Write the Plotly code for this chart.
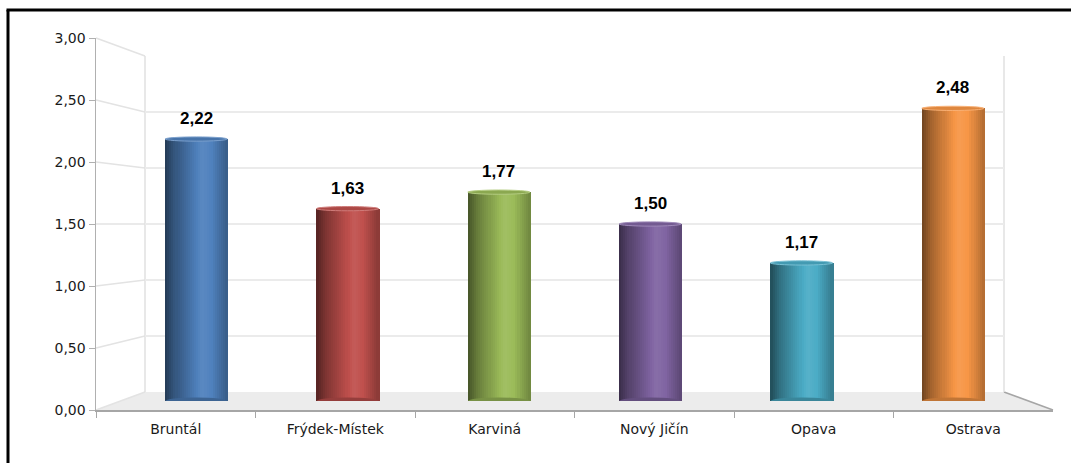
import plotly.graph_objects as go

categories = ["Bruntál", "Frýdek-Místek", "Karviná", "Nový Jičín", "Opava", "Ostrava"]
values = [2.22, 1.63, 1.77, 1.50, 1.17, 2.48]
colors = ["#4f81bd", "#c0504d", "#9bbb59", "#8064a2", "#4bacc6", "#f79646"]
tick_vals = [0, 0.5, 1.0, 1.5, 2.0, 2.5, 3.0]
tick_text = ["0,00", "0,50", "1,00", "1,50", "2,00", "2,50", "3,00"]

W, H = 1071, 463
def px(x):
    return x / W
def py(y):
    return 1 - y / H

# geometry (pixels)
FX0, FX1, FY0, FY3 = 96, 1053, 410, 38      # front plane
BX0, BX1, BY0, BY3 = 145, 1004, 392, 56     # back wall
MX0, MX1, MY0, MY3 = 120.5, 1028.5, 401, 47  # middle (bars)

def hex2rgb(h):
    h = h.lstrip("#")
    return tuple(int(h[i:i + 2], 16) for i in (0, 2, 4))

def shade(h, f):
    r, g, b = hex2rgb(h)
    if f <= 1:
        c = [int(v * f) for v in (r, g, b)]
    else:
        t = f - 1
        c = [int(v + (255 - v) * t) for v in (r, g, b)]
    return "rgb(%d,%d,%d)" % tuple(c)

def profile(t):
    pts = [(0, 0.45), (0.15, 0.66), (0.6, 1.07), (0.75, 1.0), (1.0, 0.72)]
    for (a, fa), (b, fb) in zip(pts, pts[1:]):
        if a <= t <= b:
            return fa + (fb - fa) * (t - a) / (b - a)
    return 1.0

fig = go.Figure()

# back wall axes (gridlines) - first subplot, drawn underneath
fig.add_trace(go.Scatter(x=[0], y=[0], xaxis="x", yaxis="y", mode="markers",
                         marker=dict(opacity=0), showlegend=False, hoverinfo="skip"))
# front axes (labels)
fig.add_trace(go.Scatter(x=categories, y=[0] * len(categories), xaxis="x2", yaxis="y2",
                         mode="markers", marker=dict(opacity=0), showlegend=False,
                         hoverinfo="skip"))

# cylinder bars as gradient stripes
N = 30
bw = 0.41
for i in range(N):
    t = (i + 0.5) / N
    fig.add_trace(go.Bar(
        x=categories, y=values, xaxis="x3", yaxis="y3",
        width=bw / N * 1.6, offset=-bw / 2 + i * bw / N,
        marker=dict(color=[shade(c, profile(t)) for c in colors], line=dict(width=0)),
        showlegend=False, hoverinfo="skip"))

shapes = []
# floor
shapes.append(dict(type="path", xref="paper", yref="paper",
                   path="M %f,%f L %f,%f L %f,%f L %f,%f Z" % (
                       px(BX0), py(BY0), px(BX1), py(BY0), px(FX1), py(FY0), px(FX0), py(FY0)),
                   fillcolor="#ececec", line=dict(width=0), layer="below"))
# side-wall diagonals for gridlines
for v in tick_vals:
    fy = FY0 - (FY0 - FY3) * v / 3
    by = BY0 - (BY0 - BY3) * v / 3
    shapes.append(dict(type="line", xref="paper", yref="paper",
                       x0=px(FX0), y0=py(fy), x1=px(BX0), y1=py(by),
                       line=dict(color="#e3e3e3", width=1.5), layer="below"))
# right floor diagonal
shapes.append(dict(type="line", xref="paper", yref="paper",
                   x0=px(BX1), y0=py(BY0), x1=px(FX1), y1=py(FY0),
                   line=dict(color="#a6a6a6", width=1.5), layer="below"))
# back wall verticals
shapes.append(dict(type="line", xref="paper", yref="paper",
                   x0=px(BX0), y0=py(BY0), x1=px(BX0), y1=py(BY3),
                   line=dict(color="#e0e0e0", width=1.5), layer="below"))
shapes.append(dict(type="line", xref="paper", yref="paper",
                   x0=px(BX1), y0=py(BY0), x1=px(BX1), y1=py(BY3),
                   line=dict(color="#e0e0e0", width=1.5), layer="below"))
# cylinder bottom and top caps (from the data)
for k, (v, c) in enumerate(zip(values, colors)):
    shapes.append(dict(type="circle", xref="x3", yref="y3",
                       x0=k - bw / 2, x1=k + bw / 2, y0=-0.03, y1=0.03,
                       fillcolor=shade(c, 0.78), line=dict(width=0), layer="above"))
    shapes.append(dict(type="circle", xref="x3", yref="y3",
                       x0=k - bw / 2, x1=k + bw / 2, y0=v - 0.018, y1=v + 0.018,
                       fillcolor=shade(c, 0.9), line=dict(color=shade(c, 1.25), width=1),
                       layer="above"))
# outer border (top and left)
shapes.append(dict(type="line", xref="paper", yref="paper",
                   x0=px(6.5), y0=py(10), x1=1, y1=py(10), line=dict(color="black", width=3)))
shapes.append(dict(type="line", xref="paper", yref="paper",
                   x0=px(8), y0=py(10), x1=px(8), y1=0, line=dict(color="black", width=3)))

# data labels
annotations = [dict(x=cat, y=v, xref="x3", yref="y3", yanchor="bottom", yshift=9,
                    text=("%.2f" % v).replace(".", ","), showarrow=False,
                    font=dict(family="Liberation Sans", size=17, color="black", weight="bold"))
               for cat, v in zip(categories, values)]

tickfont = dict(family="DejaVu Sans", size=14, color="#1a1a1a")
fig.update_layout(
    width=W, height=H, margin=dict(l=0, r=0, t=0, b=0, autoexpand=False),
    paper_bgcolor="white", plot_bgcolor="rgba(0,0,0,0)",
    barmode="overlay", bargap=0, showlegend=False,
    shapes=shapes, annotations=annotations,
    xaxis=dict(domain=[px(BX0), px(BX1)], range=[0, 1], visible=False, anchor="y"),
    yaxis=dict(domain=[py(BY0), py(BY3)], range=[0, 3], anchor="x",
               showgrid=True, gridcolor="#ebebeb", gridwidth=1.5, tickvals=tick_vals,
               showticklabels=False, zeroline=False, showline=False),
    xaxis2=dict(domain=[px(FX0), px(FX1)], range=[-0.5, 5.5], anchor="y2",
                showline=True, linecolor="#a6a6a6", linewidth=1.5, showgrid=False,
                ticks="outside", tickson="boundaries", ticklen=6, tickcolor="#a6a6a6",
                ticklabelstandoff=6, tickfont=tickfont, zeroline=False),
    yaxis2=dict(domain=[py(FY0), py(FY3)], range=[0, 3], anchor="x2",
                showline=True, linecolor="#b0b0b0", linewidth=1.5, showgrid=False,
                tickvals=tick_vals, ticktext=tick_text, ticks="outside", ticklen=6,
                tickcolor="#b0b0b0", zeroline=False, tickfont=tickfont),
    xaxis3=dict(domain=[px(MX0), px(MX1)], range=[-0.5, 5.5], visible=False, anchor="y3"),
    yaxis3=dict(domain=[py(MY0), py(MY3)], range=[0, 3], visible=False, anchor="x3"),
)

fig.write_html("out.html", config={"displayModeBar": False, "staticPlot": True},
               post_script="document.body.style.margin='0';")
